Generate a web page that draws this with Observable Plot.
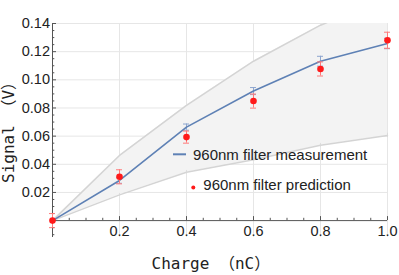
<!DOCTYPE html>
<html><head><meta charset="utf-8">
<script src="https://cdn.jsdelivr.net/npm/d3@7"></script>
<script src="https://cdn.jsdelivr.net/npm/@observablehq/plot@0.6"></script>
<style>
body{margin:0;background:#fff}
#wrap{position:relative;width:399px;height:275px}
</style>
</head><body><div id="wrap"></div>
<script>
const charge = [0, 0.2, 0.4, 0.6, 0.8, 1.0];
const measured = [0, 0.0285, 0.0664, 0.092, 0.1132, 0.1258];
const measuredErr = [0, 0.002, 0.0022, 0.0025, 0.0035, 0.0037];
const predicted = [0, 0.0311, 0.0593, 0.0849, 0.1077, 0.1281];
const predictedErr = [0.005, 0.005, 0.0043, 0.005, 0.005, 0.0057];
const bandLow = [0, 0.0183, 0.0344, 0.0432, 0.0535, 0.0605];
const bandHigh = [0, 0.0463, 0.0819, 0.1132, 0.1388, 0.158];
const bandErr = [0, 0.001, 0.0012, 0.0012, 0.0013, 0.0015];
const xTicks = [0.2, 0.4, 0.6, 0.8, 1.0];
const xTickLabels = ["0.2", "0.4", "0.6", "0.8", "1.0"];
const xMinor = [0.05, 0.1, 0.15, 0.25, 0.3, 0.35, 0.45, 0.5, 0.55, 0.65, 0.7, 0.75, 0.85, 0.9, 0.95];
const yTicks = [0.02, 0.04, 0.06, 0.08, 0.10, 0.12, 0.14];
const yTickLabels = ["0.02", "0.04", "0.06", "0.08", "0.10", "0.12", "0.14"];
const yMinor = [-0.01, -0.005, 0.005, 0.01, 0.015, 0.025, 0.03, 0.035, 0.045, 0.05, 0.055, 0.065, 0.07, 0.075, 0.085, 0.09, 0.095, 0.105, 0.11, 0.115, 0.125, 0.13, 0.135];
const seriesNames = ["960nm filter measurement", "960nm filter prediction"];
const xLabel = "Charge （nC）";
const yLabel = "Signal （V）";

const rows = charge.map((c, i) => ({
  c, m: measured[i], me: measuredErr[i], p: predicted[i], pe: predictedErr[i],
  lo: bandLow[i], hi: bandHigh[i], be: bandErr[i]
}));
const xt = xTicks.map((v, i) => ({v, t: xTickLabels[i]}));
const yt = yTicks.map((v, i) => ({v, t: yTickLabels[i]}));

const BLUE = "#5E81B5", RED = "#ff1a1a", AX = "#555", GRID = "#e6e6e6";
const tickFont = "Liberation Sans, Arial, sans-serif";
const monoFont = "DejaVu Sans Mono, Noto Sans CJK JP, monospace";

const chart = Plot.plot({
  width: 399, height: 275,
  marginLeft: 52, marginRight: 12, marginTop: 23, marginBottom: 38,
  x: {domain: [0, 1], axis: null},
  y: {domain: [-0.012, 0.14], axis: null},
  marks: [
    Plot.ruleX(xTicks, {stroke: GRID, strokeWidth: 1}),
    Plot.ruleY(yTicks, {stroke: GRID, strokeWidth: 1}),
    Plot.areaY(rows, {x: "c", y1: "lo", y2: "hi", fill: "#f3f3f3", clip: true}),
    Plot.line(rows, {x: "c", y: "hi", stroke: "#d4d4d4", strokeWidth: 1.5, clip: true}),
    Plot.line(rows, {x: "c", y: "lo", stroke: "#d4d4d4", strokeWidth: 1.5}),
    Plot.ruleX(rows.filter(d => d.be > 0), {x: "c", y1: d => d.lo - d.be, y2: d => d.lo + d.be, stroke: "#d8d8d8", strokeWidth: 0.8}),
    // axes
    Plot.ruleX([0], {stroke: AX, strokeWidth: 1}),
    Plot.ruleY([0], {stroke: AX, strokeWidth: 1}),
    Plot.ruleX(xTicks, {y1: 0, y2: 0, insetTop: -4, stroke: AX}),
    Plot.ruleX(xMinor, {y1: 0, y2: 0, insetTop: -2.3, stroke: AX}),
    Plot.ruleY(yTicks, {x1: 0, x2: 0, insetRight: -4, stroke: AX}),
    Plot.ruleY(yMinor, {x1: 0, x2: 0, insetRight: -2.3, stroke: AX}),
    Plot.text(xt, {x: "v", y: 0, text: "t", dy: 11, textAnchor: "middle", fontSize: 14.5, fontFamily: tickFont, fill: "#222"}),
    Plot.text(yt, {x: 0, y: "v", text: "t", dx: -2.5, textAnchor: "end", fontSize: 14.5, fontFamily: tickFont, fill: "#222"}),
    // measurement error bars
    Plot.ruleX(rows.filter(d => d.me > 0), {x: "c", y1: d => d.m - d.me, y2: d => d.m + d.me, stroke: "#8ea6cf", strokeWidth: 1}),
    Plot.ruleY(rows.filter(d => d.me > 0), {y: d => d.m + d.me, x1: "c", x2: "c", insetLeft: -3, insetRight: -3, stroke: "#8ea6cf"}),
    Plot.ruleY(rows.filter(d => d.me > 0), {y: d => d.m - d.me, x1: "c", x2: "c", insetLeft: -3, insetRight: -3, stroke: "#8ea6cf"}),
    Plot.line(rows, {x: "c", y: "m", stroke: BLUE, strokeWidth: 1.6}),
    // prediction error bars
    Plot.ruleX(rows, {x: "c", y1: d => d.p - d.pe, y2: d => d.p + d.pe, stroke: "#ff7a7a", strokeWidth: 1}),
    Plot.ruleY(rows, {y: d => d.p + d.pe, x1: "c", x2: "c", insetLeft: -3, insetRight: -3, stroke: "#ff7a7a"}),
    Plot.ruleY(rows, {y: d => d.p - d.pe, x1: "c", x2: "c", insetLeft: -3, insetRight: -3, stroke: "#ff7a7a"}),
    Plot.dot(rows, {x: "c", y: "p", r: 3.3, fill: RED, stroke: "none"})
  ]
});

const svg = d3.select(chart);
// axis labels
svg.append("text").text(xLabel)
  .attr("x", 151.5).attr("y", 269).attr("text-anchor", "start")
  .attr("font-family", monoFont).attr("font-size", 16).attr("fill", "#222");
svg.append("text").text(yLabel)
  .attr("transform", "translate(13.5,183) rotate(-90)").attr("text-anchor", "start")
  .attr("font-family", monoFont).attr("font-size", 16).attr("fill", "#222");
// legend
svg.append("line").attr("x1", 173).attr("x2", 186).attr("y1", 154.3).attr("y2", 154.3)
  .attr("stroke", BLUE).attr("stroke-width", 2);
svg.append("text").text(seriesNames[0]).attr("x", 193).attr("y", 154)
  .attr("text-anchor", "start").attr("dominant-baseline", "central")
  .attr("font-family", tickFont).attr("font-size", 15).attr("fill", "#222");
svg.append("circle").attr("cx", 193.3).attr("cy", 187.5).attr("r", 2).attr("fill", RED);
svg.append("text").text(seriesNames[1]).attr("x", 203.3).attr("y", 184.3)
  .attr("text-anchor", "start").attr("dominant-baseline", "central")
  .attr("font-family", tickFont).attr("font-size", 15).attr("fill", "#222");

document.getElementById("wrap").append(chart);
</script>
</body></html>
